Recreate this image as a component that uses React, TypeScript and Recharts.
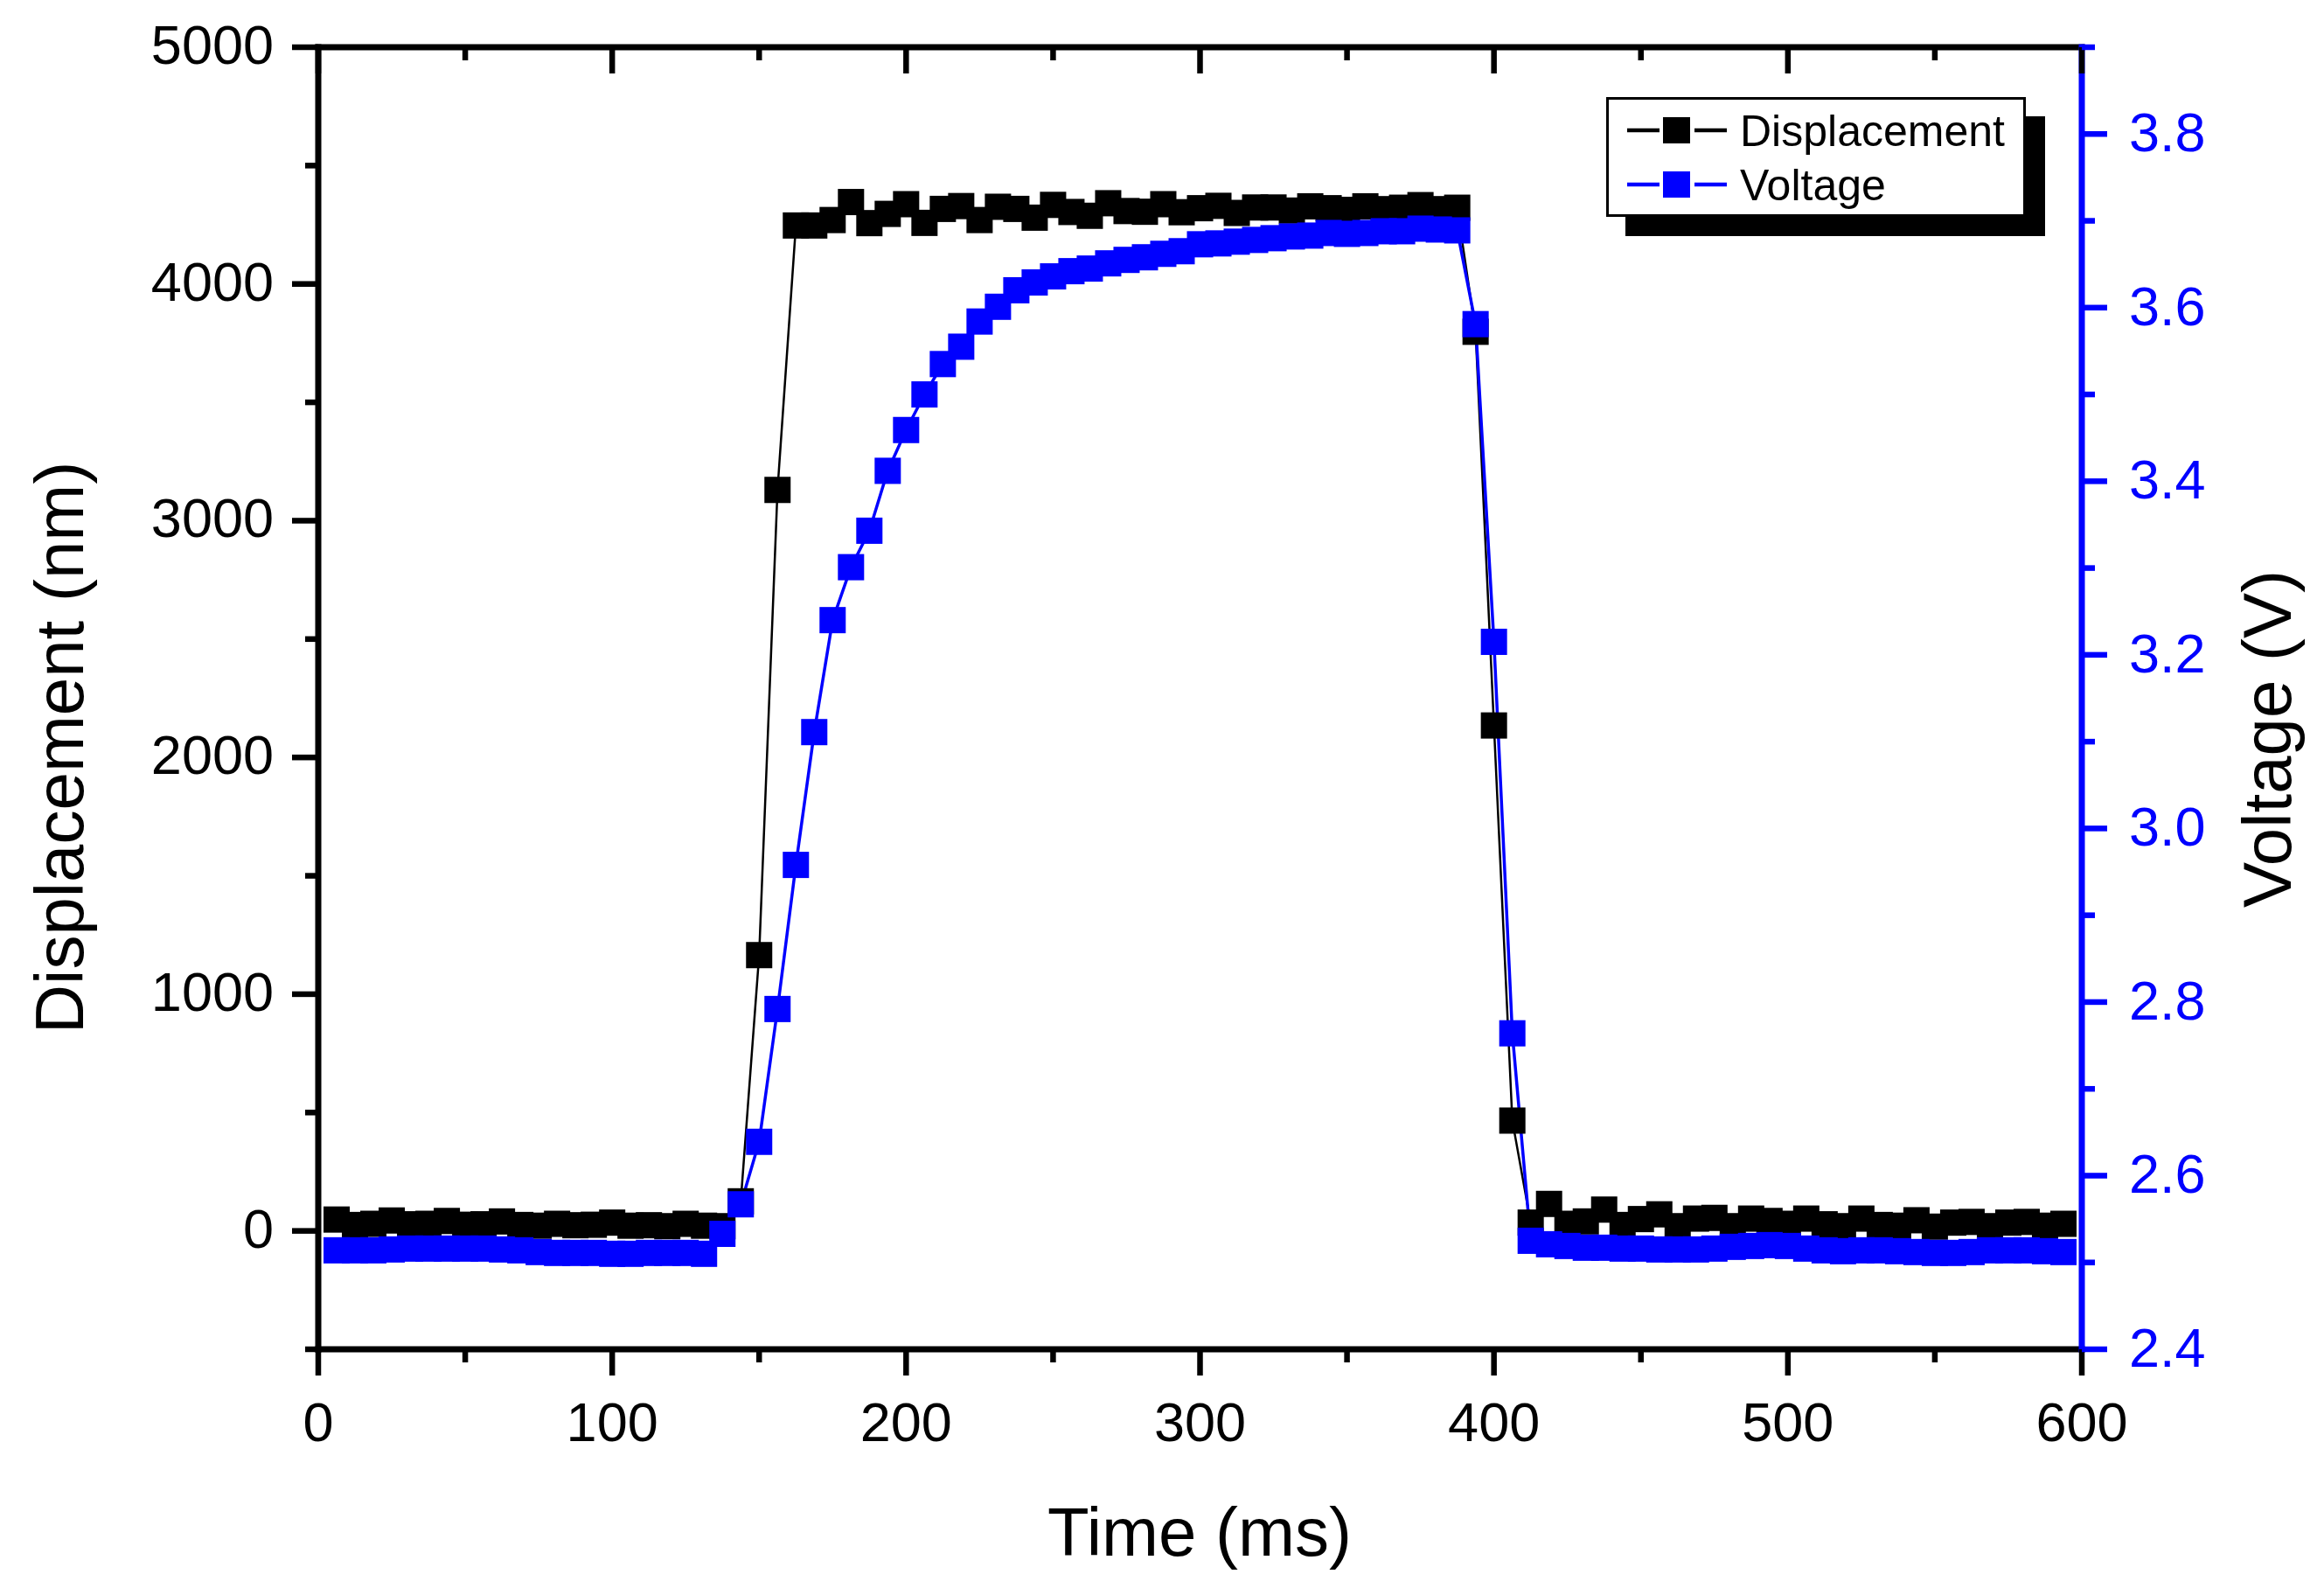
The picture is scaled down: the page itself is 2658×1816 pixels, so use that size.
import React from 'react';
import { LineChart, Line, XAxis, YAxis } from 'recharts';

// sample times (ms)
const TIME_MS = [
  6.25, 12.5, 18.75, 25, 31.25, 37.5, 43.75, 50, 56.25, 62.5,
  68.75, 75, 81.25, 87.5, 93.75, 100, 106.25, 112.5, 118.75, 125,
  131.25, 137.5, 143.75, 150, 156.25, 162.5, 168.75, 175, 181.25, 187.5,
  193.75, 200, 206.25, 212.5, 218.75, 225, 231.25, 237.5, 243.75, 250,
  256.25, 262.5, 268.75, 275, 281.25, 287.5, 293.75, 300, 306.25, 312.5,
  318.75, 325, 331.25, 337.5, 343.75, 350, 356.25, 362.5, 368.75, 375,
  381.25, 387.5, 393.75, 400, 406.25, 412.5, 418.75, 425, 431.25, 437.5,
  443.75, 450, 456.25, 462.5, 468.75, 475, 481.25, 487.5, 493.75, 500,
  506.25, 512.5, 518.75, 525, 531.25, 537.5, 543.75, 550, 556.25, 562.5,
  568.75, 575, 581.25, 587.5, 593.75,
];

const DISPLACEMENT_NM = [
  48, 25, 30, 44, 28, 30, 42, 26, 28, 40,
  25, 22, 30, 24, 26, 35, 22, 24, 20, 30,
  22, 20, 125, 1165, 3130, 4247, 4247, 4270, 4346, 4257,
  4296, 4337, 4258, 4317, 4329, 4270, 4326, 4317, 4280, 4334,
  4304, 4288, 4341, 4308, 4305, 4337, 4303, 4320, 4330, 4300,
  4323, 4323, 4310, 4328, 4320, 4313, 4328, 4316, 4322, 4333,
  4316, 4322, 3798, 2135, 466, 35, 114, 30, 40, 90,
  25, 50, 70, 20, 52, 55, 20, 52, 42, 30,
  52, 28, 20, 52, 25, 22, 45, 18, 35, 38,
  20, 35, 38, 22, 30,
];

const VOLTAGE_V = [
  2.514, 2.514, 2.514, 2.515, 2.516, 2.516, 2.516, 2.516, 2.516, 2.515,
  2.514, 2.512, 2.511, 2.511, 2.511, 2.51, 2.51, 2.511, 2.511, 2.511,
  2.51, 2.533, 2.567, 2.639, 2.792, 2.958, 3.111, 3.24, 3.301, 3.343,
  3.412, 3.459, 3.5, 3.535, 3.555, 3.584, 3.601, 3.62, 3.629, 3.636,
  3.642, 3.645, 3.651, 3.655, 3.658, 3.662, 3.665, 3.673, 3.674, 3.676,
  3.678, 3.68, 3.682, 3.683, 3.686, 3.685, 3.686, 3.688, 3.688, 3.691,
  3.69, 3.689, 3.581, 3.215, 2.764, 2.525, 2.521, 2.519, 2.517, 2.517,
  2.516, 2.516, 2.515, 2.515, 2.515, 2.516, 2.518, 2.519, 2.52, 2.519,
  2.516, 2.514, 2.513, 2.514, 2.514, 2.513, 2.512, 2.511, 2.511, 2.512,
  2.514, 2.514, 2.514, 2.513, 2.512,
];

const X_TICKS = [0, 50, 100, 150, 200, 250, 300, 350, 400, 450, 500, 550, 600];
const LEFT_TICKS = [-500, 0, 500, 1000, 1500, 2000, 2500, 3000, 3500, 4000, 4500, 5000];
const RIGHT_TICKS = [2.4, 2.5, 2.6, 2.7, 2.8, 2.9, 3.0, 3.1, 3.2, 3.3, 3.4, 3.5, 3.6, 3.7, 3.8, 3.9];

const SERIES = [
  { key: 'displacement', name: 'Displacement', color: '#000000' },
  { key: 'voltage', name: 'Voltage', color: '#0000FF' },
];

const FONT = '"Liberation Sans", Arial, Helvetica, sans-serif';
const BLUE = '#0000FF';

const chartData = TIME_MS.map((t, i) => ({
  t,
  displacement: DISPLACEMENT_NM[i],
  voltage: VOLTAGE_V[i],
}));

const squareDot = (color: string) => (props: any) => {
  const { cx, cy, index } = props;
  if (cx == null || cy == null) return <g key={`${color}-e-${index}`} />;
  return <rect key={`${color}-${index}`} x={cx - 15} y={cy - 15} width={30} height={30} fill={color} />;
};

const LeftTick = (props: any) => {
  const { x, y, payload } = props;
  const major = payload.value % 1000 === 0;
  return (
    <g>
      <line x1={x - (major ? 30 : 15)} x2={x} y1={y} y2={y} stroke="#000" strokeWidth={6.5} />
      {major && (
        <text x={x - 51} y={y + 19} textAnchor="end" fontSize={63} fontFamily={FONT} fill="#000">
          {payload.value}
        </text>
      )}
    </g>
  );
};

const RightTick = (props: any) => {
  const { x, y, payload } = props;
  const major = Math.round(payload.value * 10) % 2 === 0;
  return (
    <g>
      <line x1={x} x2={x + (major ? 29 : 15)} y1={y} y2={y} stroke={BLUE} strokeWidth={6.5} />
      {major && (
        <text x={x + 54} y={y + 20} textAnchor="start" fontSize={63} fontFamily={FONT} fill={BLUE}>
          {payload.value.toFixed(1)}
        </text>
      )}
    </g>
  );
};

const BottomTick = (props: any) => {
  const { x, y, payload } = props;
  const major = payload.value % 100 === 0;
  return (
    <g>
      <line x1={x} x2={x} y1={y} y2={y + (major ? 30 : 15)} stroke="#000" strokeWidth={6.5} />
      {major && (
        <text x={x} y={y + 105} textAnchor="middle" fontSize={63} fontFamily={FONT} fill="#000">
          {payload.value}
        </text>
      )}
    </g>
  );
};

const TopTick = (props: any) => {
  const { x, y, payload } = props;
  const major = payload.value % 100 === 0;
  return <line x1={x} x2={x} y1={y} y2={y + (major ? 30 : 15)} stroke="#000" strokeWidth={6.5} />;
};

const LeftTitle = () => (
  <text x={87} y={847} transform="rotate(-90 87 847)" textAnchor="middle" fontSize={78} fontFamily={FONT} fill="#000">
    Displacement (nm)
  </text>
);

const RightTitle = () => (
  <text x={2612} y={837} transform="rotate(-90 2612 837)" textAnchor="middle" fontSize={78} fontFamily={FONT} fill="#000">
    Voltage (V)
  </text>
);

const BottomTitle = () => (
  <text x={1364} y={1771} textAnchor="middle" fontSize={78} fontFamily={FONT} fill="#000">
    Time (ms)
  </text>
);

// legend: line broken either side of the square, drop shadow bottom-right
const LegendBox = () => (
  <svg
    width={510}
    height={165}
    style={{ position: 'absolute', left: 1829, top: 103, overflow: 'visible' }}
  >
    <rect x={22} y={22} width={480} height={137} fill="#000" />
    <rect x={1.5} y={1.5} width={477} height={134} fill="#fff" stroke="#000" strokeWidth={3} />
    {SERIES.map((s, i) => {
      const cy = 38 + i * 62;
      return (
        <g key={s.key}>
          <line x1={24} x2={61} y1={cy} y2={cy} stroke={s.color} strokeWidth={4.5} />
          <line x1={101} x2={138} y1={cy} y2={cy} stroke={s.color} strokeWidth={4.5} />
          <rect x={65} y={cy - 15} width={31} height={30} fill={s.color} />
          <text x={153} y={cy + 18} fontSize={50} fontFamily={FONT} fill="#000">
            {s.name}
          </text>
        </g>
      );
    })}
  </svg>
);

const axisLine = (color: string) => ({ stroke: color, strokeWidth: 7, strokeLinecap: 'square' as const });

export default function App() {
  return (
    <div style={{ position: 'relative', width: 2642, height: 1800, background: '#fff' }}>
      <LineChart width={2642} height={1800} data={chartData} margin={{ top: 0, right: 0, bottom: 0, left: 0 }}>
        <XAxis
          xAxisId="bottom"
          dataKey="t"
          type="number"
          domain={[0, 600]}
          ticks={X_TICKS}
          interval={0}
          orientation="bottom"
          height={265}
          axisLine={axisLine('#000')}
          tickLine={false}
          tickSize={0}
          tickMargin={0}
          tick={<BottomTick />}
          label={<BottomTitle />}
        />
        <XAxis
          xAxisId="top"
          dataKey="t"
          type="number"
          domain={[0, 600]}
          ticks={X_TICKS}
          interval={0}
          orientation="top"
          height={46}
          axisLine={axisLine('#000')}
          tickLine={false}
          tickSize={0}
          tickMargin={0}
          tick={<TopTick />}
        />
        <YAxis
          yAxisId="left"
          type="number"
          domain={[-500, 5000]}
          ticks={LEFT_TICKS}
          interval={0}
          width={356}
          axisLine={axisLine('#000')}
          tickLine={false}
          tickSize={0}
          tickMargin={0}
          tick={<LeftTick />}
          label={<LeftTitle />}
        />
        <YAxis
          yAxisId="right"
          orientation="right"
          type="number"
          domain={[2.4, 3.9]}
          ticks={RIGHT_TICKS}
          interval={0}
          width={269}
          axisLine={axisLine(BLUE)}
          tickLine={false}
          tickSize={0}
          tickMargin={0}
          tick={<RightTick />}
          label={<RightTitle />}
        />
        <Line
          xAxisId="bottom"
          yAxisId="left"
          type="linear"
          dataKey="displacement"
          name="Displacement"
          stroke="#000000"
          strokeWidth={2.5}
          dot={squareDot('#000000')}
          activeDot={false}
          isAnimationActive={false}
        />
        <Line
          xAxisId="bottom"
          yAxisId="right"
          type="linear"
          dataKey="voltage"
          name="Voltage"
          stroke={BLUE}
          strokeWidth={3.5}
          dot={squareDot(BLUE)}
          activeDot={false}
          isAnimationActive={false}
        />
      </LineChart>
      <LegendBox />
    </div>
  );
}
